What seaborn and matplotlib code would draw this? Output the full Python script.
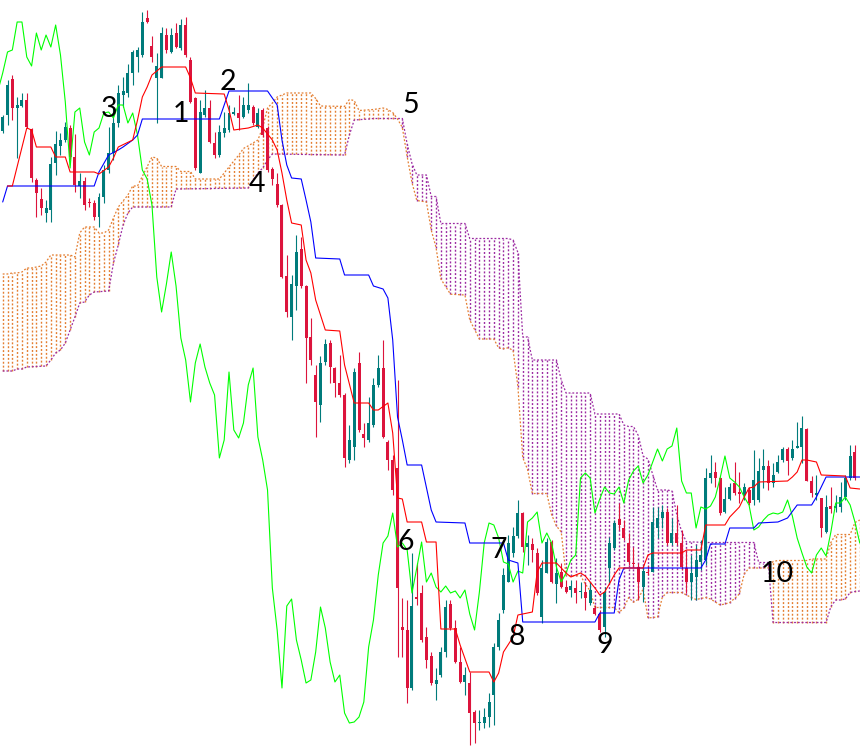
import numpy as np
import matplotlib
matplotlib.use("Agg")
import matplotlib.pyplot as plt
import seaborn as sns

# candles (bar 0 = leftmost on screen), price units
open_ = [669, 685, 721, 692, 694, 700, 671, 620, 601, 587,
         590, 637, 654, 660, 672, 643, 614, 619, 598, 597,
         583, 603, 630, 647, 677, 705, 707, 727, 743, 745,
         782, 754, 722, 722, 765, 748, 767, 752, 775, 740,
         702, 627, 685, 692, 657, 645, 667, 670, 686, 687,
         683, 690, 693, 673, 690, 672, 631, 616, 595, 524,
         483, 514, 551, 514, 463, 425, 395, 438, 457, 432,
         417, 405, 340, 353, 437, 366, 360, 375, 415, 432,
         358, 340, 332, 173, 170, 112, 203, 207, 163, 144,
         116, 125, 148, 196, 172, 138, 118, 117, 88, 77,
         77, 83, 105, 153, 190, 218, 247, 264, 287, 253,
         256, 247, 183, 227, 258, 216, 228, 213, 210, 212,
         208, 208, 197, 192, 186, 173, 232, 252, 281, 272,
         257, 237, 233, 213, 228, 228, 272, 282, 288, 257,
         267, 257, 232, 218, 223, 238, 240, 322, 328, 322,
         288, 301, 317, 308, 305, 310, 300, 300, 330, 334,
         317, 328, 340, 351, 342, 352, 353, 371, 319, 305,
         302, 268, 294, 292, 293, 303, 322, 348]
high = [685, 720, 725, 703, 707, 707, 672, 622, 612, 600,
        643, 669, 667, 678, 675, 666, 627, 623, 602, 600,
        607, 635, 673, 693, 715, 723, 736, 750, 753, 788,
        790, 764, 747, 773, 772, 772, 777, 781, 783, 743,
        703, 700, 710, 700, 668, 675, 688, 695, 693, 705,
        703, 717, 695, 692, 692, 674, 633, 627, 596, 545,
        525, 565, 563, 515, 482, 435, 444, 461, 460, 433,
        445, 407, 375, 432, 448, 377, 403, 422, 445, 460,
        360, 345, 420, 202, 200, 247, 237, 215, 173, 148,
        132, 153, 200, 200, 180, 153, 133, 128, 90, 90,
        92, 107, 157, 187, 232, 265, 273, 300, 288, 265,
        262, 252, 240, 262, 260, 242, 237, 220, 220, 220,
        218, 218, 218, 195, 190, 213, 263, 280, 297, 280,
        267, 253, 237, 235, 235, 293, 293, 295, 292, 282,
        295, 270, 250, 245, 255, 260, 332, 345, 338, 323,
        313, 317, 338, 328, 317, 313, 350, 342, 351, 340,
        337, 345, 353, 353, 360, 378, 384, 372, 324, 325,
        302, 305, 313, 305, 318, 325, 355, 355]
low = [667, 675, 680, 642, 693, 672, 618, 583, 585, 578,
       578, 625, 645, 658, 640, 608, 602, 590, 593, 580,
       573, 597, 627, 640, 673, 693, 703, 715, 728, 743,
       777, 738, 677, 722, 747, 747, 752, 750, 743, 697,
       630, 627, 683, 657, 642, 643, 663, 668, 685, 670,
       682, 687, 675, 672, 663, 628, 615, 593, 522, 483,
       460, 490, 512, 417, 435, 363, 378, 435, 417, 403,
       403, 333, 337, 340, 368, 353, 358, 373, 413, 362,
       330, 305, 143, 143, 97, 110, 195, 158, 132, 115,
       100, 123, 143, 170, 137, 117, 105, 55, 57, 70,
       72, 73, 75, 150, 187, 218, 243, 262, 248, 235,
       238, 205, 177, 227, 217, 197, 212, 207, 203, 197,
       202, 190, 195, 185, 168, 163, 217, 250, 270, 260,
       235, 233, 200, 198, 225, 228, 262, 272, 255, 255,
       255, 230, 207, 200, 200, 230, 235, 317, 313, 285,
       287, 300, 305, 297, 300, 295, 295, 298, 312, 310,
       313, 327, 338, 325, 340, 352, 337, 319, 303, 300,
       263, 267, 287, 288, 288, 300, 320, 320]
close = [683, 715, 692, 695, 700, 673, 622, 607, 592, 592,
         636, 656, 660, 673, 643, 615, 619, 595, 597, 583,
         603, 630, 647, 677, 707, 709, 727, 748, 750, 778,
         778, 743, 734, 767, 750, 765, 753, 775, 745, 698,
         632, 688, 692, 658, 645, 668, 672, 687, 688, 682,
         695, 695, 677, 687, 665, 630, 621, 595, 523, 488,
         516, 548, 514, 462, 440, 398, 437, 456, 433, 417,
         405, 342, 360, 428, 370, 362, 377, 415, 432, 363,
         340, 310, 212, 170, 112, 194, 201, 160, 140, 117,
         120, 148, 193, 172, 138, 118, 125, 87, 77, 78,
         83, 98, 153, 180, 225, 257, 264, 287, 253, 257,
         250, 207, 232, 258, 218, 227, 213, 208, 214, 207,
         209, 202, 210, 186, 170, 208, 257, 277, 275, 262,
         238, 236, 218, 229, 227, 278, 282, 288, 257, 267,
         257, 233, 218, 227, 240, 245, 322, 327, 322, 287,
         301, 313, 307, 306, 313, 297, 320, 329, 334, 317,
         325, 338, 351, 339, 351, 354, 372, 319, 307, 307,
         272, 293, 291, 294, 303, 322, 344, 322]

# closes of the bars after the screen edge, only the lagging line shows them
later_close = [318, 313, 303, 295, 270, 273, 280, 285, 287, 286,
               288, 300, 284, 262, 247, 233, 227, 245, 252, 244,
               268, 297, 297, 303, 295, 278, 257]

# tenkan-sen turning points (bar, price)
tenkan_bar = [1, 2, 5, 6, 7, 10, 11, 13, 14, 19, 20, 22, 23, 24, 27, 28, 29, 30, 31, 33,
              38, 39, 40, 46, 47, 48, 51, 53, 54, 56, 57, 58, 59, 60, 62, 63, 64, 65, 67, 70,
              71, 73, 76, 77, 78, 80, 81, 82, 83, 84, 87, 88, 90, 91, 94, 95, 97, 101, 102, 103,
              104, 106, 107, 110, 111, 112, 115, 117, 118, 119, 120, 121, 123, 124, 125, 126, 127, 128, 133, 134,
              135, 141, 142, 145, 146, 150, 151, 153, 154, 155, 156, 157, 163, 164, 165, 166, 167, 169, 170, 175,
              176, 178]
tenkan_val = [614, 614, 672, 670, 653, 653, 643, 643, 628, 628, 626, 633, 642, 653, 660, 680, 703, 713, 725, 733,
              733, 722, 707, 706, 690, 670, 672, 675, 672, 660, 650, 627, 600, 577, 575, 540, 527, 500, 470, 469,
              435, 397, 397, 390, 390, 397, 367, 302, 301, 278, 278, 258, 258, 171, 171, 155, 128, 128, 118, 127,
              148, 163, 185, 188, 228, 237, 237, 227, 223, 225, 227, 224, 212, 205, 208, 216, 225, 232, 232, 245,
              247, 247, 250, 250, 275, 275, 283, 293, 303, 312, 313, 318, 319, 323, 328, 340, 340, 338, 325, 324,
              312, 311]

# kijun-sen turning points (bar, price)
kijun_bar = [0, 1, 19, 20, 22, 24, 25, 27, 28, 29, 45, 47, 55, 57, 58, 59, 60, 62, 63, 64,
             65, 70, 71, 76, 77, 79, 80, 81, 82, 83, 84, 87, 89, 90, 96, 97, 104, 105, 107, 108,
             123, 124, 127, 128, 129, 145, 146, 147, 150, 151, 156, 157, 161, 163, 165, 168, 169, 170, 171, 178]
kijun_val = [598, 614, 614, 628, 645, 650, 653, 660, 665, 681, 681, 709, 709, 695, 660, 635, 622, 621, 600, 578,
             542, 541, 525, 525, 514, 511, 502, 460, 383, 360, 335, 335, 290, 278, 277, 257, 257, 240, 237, 178,
             178, 187, 187, 220, 232, 232, 240, 256, 256, 272, 272, 277, 278, 282, 295, 295, 303, 313, 323, 323]

# leading spans on the first bars (their history is off screen)
span_a_start = [526, 526, 527, 527, 528, 532, 532, 533, 534, 538,
                545, 545, 545, 545, 545, 543, 567, 573, 573, 573,
                567, 567, 570, 582, 593, 599, 605]
span_b_bar = [0, 2, 3, 4, 5, 9, 10, 11, 12, 13, 14, 15, 16, 17, 18, 19, 22, 23, 24, 25,
              26, 27, 35, 36, 51, 52, 53, 54, 55, 56, 71, 72, 73, 76]
span_b_val = [429, 429, 431, 431, 433, 434, 440, 447, 450, 457, 470, 483, 497, 498, 505, 508, 509, 537, 555, 575,
              587, 593, 593, 611, 612, 620, 627, 632, 640, 646, 645, 665, 680, 681]

labels = ['1', '2', '3', '4', '5', '6', '7', '8', '9', '10']
label_bar = [37.0, 46.8, 22.1, 52.8, 84.8, 83.8, 103.1, 106.8, 125.1, 160.8]
label_price = [678, 710, 683, 608, 687, 250, 242, 155, 147, 218]

TEAL = '#007b7b'
RED = '#dc143c'
ORANGE = '#e47f32'
PURPLE = '#9c2aa2'

sns.set_theme(style='white')
plt.rcParams['font.family'] = ['Lato', 'DejaVu Sans']

open_ = np.array(open_, float)
high = np.array(high, float)
low = np.array(low, float)
close = np.array(close, float)
n = len(close)
bars = np.arange(n)
ahead = np.arange(n + 1)  # cloud reaches one bar past the last candle

tenkan = np.interp(ahead, tenkan_bar, tenkan_val)
kijun = np.interp(ahead, kijun_bar, kijun_val)

# senkou span A = mid of tenkan/kijun shifted 26 bars ahead
span_a = np.empty(len(ahead))
span_a[:27] = span_a_start
for j in range(27, len(ahead)):
    span_a[j] = (tenkan[j - 26] + kijun[j - 26]) / 2

# senkou span B = mid of 52-bar range shifted 26 bars ahead
span_b = np.interp(ahead, span_b_bar, span_b_val)
for j in range(77, len(ahead)):
    span_b[j] = (high[j - 77:j - 25].max() + low[j - 77:j - 25].min()) / 2

# chikou = close shifted 26 bars back
all_close = np.concatenate([close, later_close])
chikou_bar = np.arange(-1, len(all_close) - 26)
chikou = all_close[25:]

fig = plt.figure(figsize=(8.6, 7.53), dpi=100)
ax = fig.add_axes([0, 0, 1, 1])

# cloud hatching, one dotted stroke per bar
cloud_col = [ORANGE if a > b else PURPLE for a, b in zip(span_a, span_b)]
ax.vlines(ahead, np.minimum(span_a, span_b), np.maximum(span_a, span_b),
          colors=cloud_col, linestyles=(0, (1.4, 1.4)), lw=1.0, zorder=1)
sns.lineplot(x=ahead, y=span_a, color=ORANGE, lw=0.9, linestyle=(0, (1.5, 1.5)), ax=ax, zorder=2)
sns.lineplot(x=ahead, y=span_b, color=PURPLE, lw=0.9, linestyle=(0, (1.5, 1.5)), ax=ax, zorder=2)

# candles
up = close >= open_
cols = np.where(up, TEAL, RED)
ax.vlines(bars, low, high, colors=cols, lw=0.8, zorder=3)
body_low = np.minimum(open_, close)
body_h = np.maximum(np.abs(close - open_), 1.0)
ax.bar(bars, body_h, bottom=body_low, width=0.62, color=cols, lw=0, zorder=3)

# lines
sns.lineplot(x=chikou_bar, y=chikou, color='#00ff00', lw=0.8, ax=ax, zorder=4)
sns.lineplot(x=ahead, y=kijun, color='#0000ff', lw=0.8, ax=ax, zorder=4)
sns.lineplot(x=ahead[1:], y=tenkan[1:], color='#ff0000', lw=0.8, ax=ax, zorder=5)

for t, xb, yp in zip(labels, label_bar, label_price):
    ax.text(xb, yp, t, ha='center', va='baseline', fontsize=20.5, color='black', zorder=6)

ax.set_xlim(-2.7 / 4.815, (860 - 2.7) / 4.815)
ax.set_ylim(47, 800)
ax.axis('off')

fig.savefig('out.png', dpi=100, facecolor='white')
